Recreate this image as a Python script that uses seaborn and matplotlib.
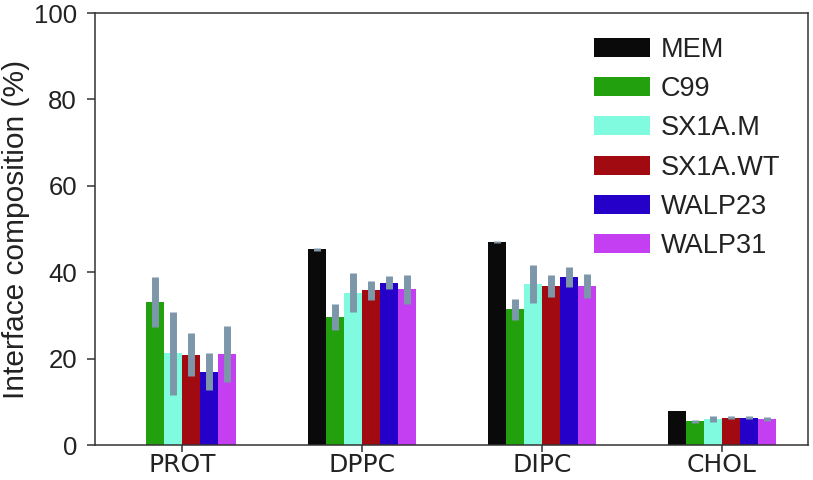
import numpy as np
import pandas as pd
import matplotlib
matplotlib.use("Agg")
import matplotlib.pyplot as plt
import seaborn as sns

categories = ["PROT", "DPPC", "DIPC", "CHOL"]
series = ["MEM", "C99", "SX1A.M", "SX1A.WT", "WALP23", "WALP31"]
colors = ["#0a0a0a", "#22a00e", "#80fbe0", "#a20a12", "#2400c8", "#c43ef2"]

mem_vals = [0.0, 45.3, 47.0, 7.8]
c99_vals = [33.1, 29.7, 31.4, 5.5]
sx1am_vals = [21.2, 35.3, 37.3, 6.0]
sx1awt_vals = [20.9, 35.8, 36.8, 6.3]
walp23_vals = [17.0, 37.6, 38.9, 6.3]
walp31_vals = [21.0, 36.0, 36.8, 6.0]

mem_err = [0.0, 0.3, 0.3, 0.0]
c99_err = [5.8, 3.0, 2.5, 0.4]
sx1am_err = [9.6, 4.5, 4.4, 0.7]
sx1awt_err = [5.0, 2.2, 2.6, 0.3]
walp23_err = [4.2, 1.6, 2.3, 0.3]
walp31_err = [6.5, 3.4, 2.8, 0.4]

values = [mem_vals, c99_vals, sx1am_vals, sx1awt_vals, walp23_vals, walp31_vals]
errors = [mem_err, c99_err, sx1am_err, sx1awt_err, walp23_err, walp31_err]

rows = []
for s, vals in zip(series, values):
    for c, v in zip(categories, vals):
        rows.append({"category": c, "series": s, "value": v})
df = pd.DataFrame(rows)

sns.set_style("ticks")
plt.rcParams["font.family"] = ["Liberation Sans", "DejaVu Sans"]

fig = plt.figure(figsize=(8.13, 4.8), dpi=100)
ax = fig.add_axes([0.1169, 0.0729, 0.8769, 0.9000])

sns.barplot(data=df, x="category", y="value", hue="series", order=categories,
            hue_order=series, palette=colors, width=0.6, errorbar=None,
            linewidth=0, saturation=1, ax=ax)

for cont, err in zip(ax.containers, errors):
    xs = [p.get_x() + p.get_width() / 2 for p in cont.patches]
    ys = [p.get_height() for p in cont.patches]
    for x, y, e in zip(xs, ys, err):
        if e > 0:
            ax.errorbar([x], [y], yerr=[e], fmt="none", ecolor="#7d97aa",
                        elinewidth=5, capsize=0, zorder=3)

ax.set_ylim(0, 100)
ax.set_yticks([0, 20, 40, 60, 80, 100])
ax.set_xlim(-0.483, 3.478)
ax.set_xlabel("")
ax.set_ylabel("Interface composition (%)", fontsize=21.5, color="#222222", labelpad=3)
ax.tick_params(axis="y", labelsize=18.5, length=6, width=1.1, pad=7, colors="#333333", labelcolor="#222222")
ax.tick_params(axis="x", labelsize=18, length=5, width=1.1, pad=0.5, colors="#333333", labelcolor="#222222")
for lbl in ax.get_xticklabels():
    lbl.set_family("DejaVu Sans")
for sp in ax.spines.values():
    sp.set_visible(True)
    sp.set_color("#333333")
    sp.set_linewidth(1.1)

leg = ax.legend(loc="upper left", bbox_to_anchor=(0.700, 0.945), frameon=False,
                fontsize=19.5, handlelength=2.07, handleheight=0.7,
                handletextpad=0.4, labelspacing=0.49, borderpad=0, borderaxespad=0)
for t in leg.get_texts():
    t.set_color("#222222")

fig.savefig("out.png", dpi=100)
